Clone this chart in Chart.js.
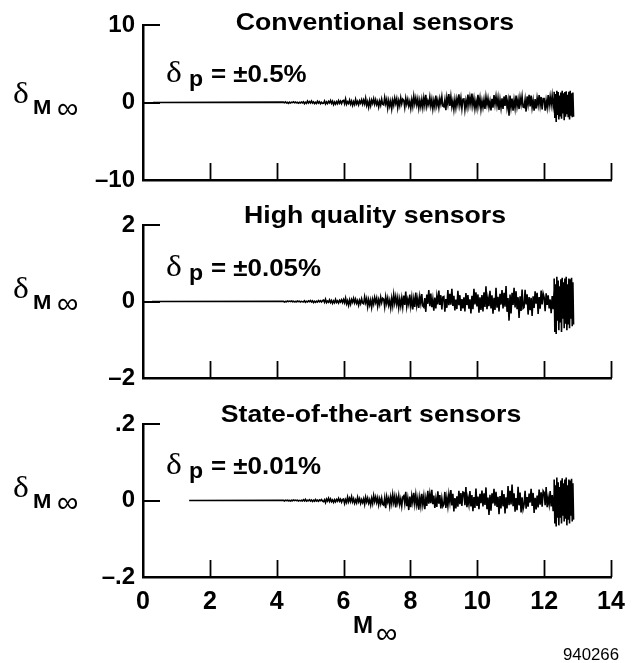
<!DOCTYPE html>
<html>
<head>
<meta charset="utf-8">
<script src="https://cdn.jsdelivr.net/npm/chart.js@4.4.0/dist/chart.umd.min.js"></script>
<style>
html,body{margin:0;padding:0;background:#fff;}
#wrap{position:relative;width:644px;height:663px;overflow:hidden;background:#fff;}
canvas{position:absolute;left:0;top:0;}
.tx{position:absolute;white-space:nowrap;color:#000;font-family:"Liberation Sans",Arial,Helvetica,sans-serif;transform-origin:0 50%;}
</style>
</head>
<body>
<div id="wrap">
<canvas id="c1" width="644" height="663"></canvas>
<canvas id="c2" width="644" height="663"></canvas>
<canvas id="c3" width="644" height="663"></canvas>
</div>
<script>
// ---------------- DATA ----------------
const xTickValues = [0, 2, 4, 6, 8, 10, 12, 14];
const xTickLabels = ['0', '2', '4', '6', '8', '10', '12', '14'];

const convTickValues = [-10, 0, 10];
const convTickLabels = ['\u201310', '0', '10'];
const highTickValues = [-2, 0, 2];
const highTickLabels = ['\u20132', '0', '2'];
const stateTickValues = [-0.2, 0, 0.2];
const stateTickLabels = ['\u2013.2', '0', '.2'];

const panelTitles = ['Conventional sensors', 'High quality sensors', 'State-of-the-art sensors'];
const pressureErrors = ['\u00b10.5%', '\u00b10.05%', '\u00b10.01%'];

// first recorded Mach number of each run (flat trace until the noise record starts)
const convStartMach = 0.3;
const highStartMach = 0.27;
const stateStartMach = 1.38;

// noise record sampled every NOISE_STEP in Mach from NOISE_START (one row = 0.6 in Mach)
const NOISE_START = 4.2;
const NOISE_STEP = 0.03;
// dense final segment sampled every BLOCK_STEP from BLOCK_START
const BLOCK_START = 12.3;
const BLOCK_STEP = 0.02;

const convNoise = [
 0.05,-0.03,0.09,-0.06,0.02,-0.1,0.04,-0.07,0.05,-0.02,0.08,-0.035,0.06,-0.045,0.025,-0.095,0.03,-0.055,0.07,-0.04,
 0.08,-0.16,0.04,-0.1,0.18,-0.06,0.12,-0.05,0.2,-0.07,0.09,-0.14,0.03,-0.12,0.17,-0.06,0.1,-0.15,0.04,-0.11,
 -0.09,0.21,-0.18,0.075,-0.135,0.15,-0.045,0.255,-0.12,0.165,-0.27,0.06,-0.195,0.105,-0.15,0.24,-0.09,0.18,-0.135,0.21,
 0.27,-0.158,0.45,-0.225,0.09,-0.135,0.315,-0.203,0.18,-0.36,0.113,-0.248,0.405,-0.18,0.135,-0.293,0.225,-0.09,0.338,-0.203,
 0.3,-0.18,0.54,-0.36,0.12,-0.6,0.24,-0.42,0.3,-0.12,0.48,-0.21,0.36,-0.27,0.15,-0.57,0.18,-0.33,0.42,-0.24,
 -0.32,0.64,-0.16,0.4,-0.72,0.24,-0.48,0.2,-0.8,0.28,-0.36,0.56,-0.12,0.48,-0.68,0.24,-0.4,0.6,-0.16,0.44,
 0.27,-0.63,0.54,-0.225,0.405,-0.45,0.135,-0.765,0.36,-0.495,0.81,-0.18,0.585,-0.315,0.45,-0.72,0.27,-0.54,0.405,-0.63,
 0.6,-0.35,1.0,-0.5,0.2,-0.3,0.7,-0.45,0.4,-0.8,0.25,-0.55,0.9,-0.4,0.3,-0.65,0.5,-0.2,0.75,-0.45,
 -0.55,0.33,-0.99,0.66,-0.22,1.1,-0.44,0.77,-0.55,0.22,-0.88,0.385,-0.66,0.495,-0.275,1.045,-0.33,0.605,-0.77,0.44,
 0.46,-0.92,0.23,-0.575,1.035,-0.345,0.69,-0.288,1.15,-0.403,0.518,-0.805,0.173,-0.69,0.978,-0.345,0.575,-0.863,0.23,-0.633,
 0.36,-0.84,0.72,-0.3,0.54,-0.6,0.18,-1.02,0.48,-0.66,0.95,-0.24,0.78,-0.42,0.6,-0.96,0.36,-0.72,0.54,-0.84,
 0.78,-0.455,0.95,-0.65,0.26,-1.7,0.91,-0.585,0.52,-1.04,0.325,-0.715,0.9,-0.52,0.39,-0.845,0.65,-0.26,0.8,-0.585,
 -0.65,0.39,-1.17,0.78,-0.26,1.0,-0.52,0.91,-0.65,0.26,-1.04,0.455,-0.78,0.585,-0.325,0.95,-0.39,0.715,-0.91,0.52,
 0.52,-1.04,0.26,-0.65,0.95,-0.39,0.78,-0.325,0.9,-0.455,
 0.6
];
const convBlock = [
 1.4,-2.0,1.1,-2.5,1.5,-1.6,1.35,-2.2,0.9,-1.8,
 1.3,-2.1,1.5,-1.4,1.2,-2.3,1.35,-1.85,1.45,-1.5,
 1.0,-1.9,1.4,-2.2,1.5,-1.7,1.2,-1.9,1.3,-1.85
];

const highNoise = [
 0.006,-0.012,0.003,-0.0075,0.0135,-0.0045,0.009,-0.0038,0.015,-0.0053,0.0068,-0.0105,0.0023,-0.009,0.0128,-0.0045,0.0075,-0.0113,0.003,-0.0083,
 -0.009,0.021,-0.018,0.0075,-0.0135,0.015,-0.0045,0.0255,-0.012,0.0165,-0.027,0.006,-0.0195,0.0105,-0.015,0.024,-0.009,0.018,-0.0135,0.021,
 0.036,-0.021,0.06,-0.03,0.012,-0.018,0.042,-0.027,0.024,-0.048,0.015,-0.033,0.054,-0.024,0.018,-0.039,0.03,-0.012,0.045,-0.027,
 0.05,-0.03,0.09,-0.06,0.02,-0.1,0.04,-0.07,0.05,-0.02,0.08,-0.035,0.06,-0.045,0.025,-0.095,0.03,-0.055,0.07,-0.04,
 -0.06,0.12,-0.03,0.075,-0.135,0.045,-0.09,0.038,-0.15,0.053,-0.068,0.105,-0.023,0.09,-0.128,0.045,-0.075,0.113,-0.03,0.083,
 0.06,-0.14,0.12,-0.05,0.09,-0.1,0.03,-0.17,0.08,-0.11,0.18,-0.04,0.13,-0.07,0.1,-0.16,0.06,-0.12,0.09,-0.14,
 0.156,-0.091,0.26,-0.13,0.052,-0.078,0.182,-0.117,0.104,-0.208,0.065,-0.143,0.234,-0.104,0.078,-0.169,0.13,-0.052,0.195,-0.117,
 -0.15,0.09,-0.27,0.18,-0.06,0.3,-0.12,0.21,-0.15,0.06,-0.24,0.105,-0.18,0.135,-0.075,0.285,-0.09,0.165,-0.21,0.12,
 0.132,-0.264,0.066,-0.165,0.297,-0.099,0.198,-0.083,0.33,-0.116,0.149,-0.231,0.05,-0.198,0.281,-0.099,0.165,-0.248,0.066,-0.182,
 0.111,-0.259,0.222,-0.093,0.167,-0.185,0.056,-0.315,0.148,-0.204,0.333,-0.074,0.241,-0.13,0.185,-0.296,0.111,-0.222,0.167,-0.259,
 0.24,-0.14,0.4,-0.2,0.08,-0.12,0.28,-0.18,0.16,-0.32,0.1,-0.22,0.36,-0.16,0.12,-0.26,0.2,-0.08,0.3,-0.18,
 0.225,-0.135,0.405,-0.27,0.09,-0.5,0.18,-0.315,0.225,-0.09,0.36,-0.158,0.27,-0.203,0.113,-0.428,0.135,-0.248,0.315,-0.18,
 -0.152,0.304,-0.076,0.19,-0.342,0.114,-0.228,0.095,-0.38,0.133,-0.171,0.266,-0.057,0.228,-0.323,0.114,-0.19,0.285,-0.076,0.209,
 0.108,-0.252,0.216,-0.09,0.162,-0.18,0.054,-0.306,0.144,-0.198,
 0.3
];
const highBlock = [
 0.6,-0.8,0.45,-0.85,0.65,-0.5,0.55,-0.75,0.4,-0.55,
 0.58,-0.8,0.62,-0.45,0.5,-0.7,0.6,-0.58,0.65,-0.75,
 0.45,-0.6,0.6,-0.7,0.58,-0.45,0.62,-0.65,0.5,-0.6
];

const stateNoise = [
 0.0005,-0.0011,0.0009,-0.0004,0.0007,-0.0008,0.0002,-0.0013,0.0006,-0.0008,0.0014,-0.0003,0.001,-0.0005,0.0008,-0.0012,0.0005,-0.0009,0.0007,-0.0011,
 0.0018,-0.0011,0.003,-0.0015,0.0006,-0.0009,0.0021,-0.0014,0.0012,-0.0024,0.0008,-0.0017,0.0027,-0.0012,0.0009,-0.002,0.0015,-0.0006,0.0023,-0.0014,
 -0.003,0.0018,-0.0054,0.0036,-0.0012,0.006,-0.0024,0.0042,-0.003,0.0012,-0.0048,0.0021,-0.0036,0.0027,-0.0015,0.0057,-0.0018,0.0033,-0.0042,0.0024,
 0.004,-0.008,0.002,-0.005,0.009,-0.003,0.006,-0.0025,0.01,-0.0035,0.0045,-0.007,0.0015,-0.006,0.0085,-0.003,0.005,-0.0075,0.002,-0.0055,
 0.0042,-0.0098,0.0084,-0.0035,0.0063,-0.007,0.0021,-0.0119,0.0056,-0.0077,0.0126,-0.0028,0.0091,-0.0049,0.007,-0.0112,0.0042,-0.0084,0.0063,-0.0098,
 -0.012,0.007,-0.02,0.01,-0.004,0.006,-0.014,0.009,-0.008,0.016,-0.005,0.011,-0.018,0.008,-0.006,0.013,-0.01,0.004,-0.015,0.009,
 0.0125,-0.0075,0.0225,-0.015,0.005,-0.025,0.01,-0.0175,0.0125,-0.005,0.02,-0.0088,0.015,-0.0113,0.0063,-0.0238,0.0075,-0.0138,0.0175,-0.01,
 0.0112,-0.0224,0.0056,-0.014,0.0252,-0.0084,0.0168,-0.007,0.028,-0.0098,0.0126,-0.0196,0.0042,-0.0168,0.0238,-0.0084,0.014,-0.021,0.0056,-0.0154,
 -0.0096,0.0224,-0.0192,0.008,-0.0144,0.016,-0.0048,0.0272,-0.0128,0.0176,-0.0288,0.0064,-0.0208,0.0112,-0.016,0.0256,-0.0096,0.0192,-0.0144,0.0224,
 0.021,-0.0123,0.035,-0.0175,0.007,-0.0105,0.0245,-0.0158,0.014,-0.028,0.0088,-0.0193,0.0315,-0.014,0.0105,-0.0228,0.0175,-0.007,0.0263,-0.0158,
 0.019,-0.0114,0.0342,-0.0228,0.0076,-0.038,0.0152,-0.0266,0.019,-0.0076,0.0304,-0.0133,0.0228,-0.0171,0.0095,-0.0361,0.0114,-0.0209,0.0266,-0.0152,
 0.0168,-0.0336,0.0084,-0.021,0.0378,-0.0126,0.0252,-0.0105,0.042,-0.0147,0.0189,-0.0294,0.0063,-0.0252,0.0357,-0.0126,0.021,-0.0315,0.0084,-0.0231,
 -0.0108,0.0252,-0.0216,0.009,-0.0162,0.018,-0.0054,0.0306,-0.0144,0.0198,-0.0324,0.0072,-0.0234,0.0126,-0.018,0.0288,-0.0108,0.0216,-0.0162,0.0252,
 0.021,-0.0123,0.035,-0.0175,0.007,-0.0105,0.0245,-0.0158,0.014,-0.028,
 0.02
];
const stateBlock = [
 0.055,-0.06,0.04,-0.068,0.06,-0.045,0.048,-0.065,0.035,-0.045,
 0.052,-0.06,0.058,-0.04,0.045,-0.055,0.055,-0.048,0.06,-0.065,
 0.04,-0.05,0.055,-0.06,0.052,-0.04,0.057,-0.055,0.045,-0.05
];

// ---------------- CHARTS ----------------
const CW = 644, CH = 663;
const PLOT_LEFT = 143, PLOT_RIGHT = 611;

function buildSeries(startMach, noise, block) {
  const pts = [{x: startMach, y: 0}];
  noise.forEach((v, i) => pts.push({x: NOISE_START + i * NOISE_STEP, y: v}));
  block.forEach((v, i) => pts.push({x: BLOCK_START + i * BLOCK_STEP, y: v}));
  return pts;
}

const innerTicks = {
  id: 'innerTicks',
  afterDraw(chart) {
    const {ctx, chartArea: a, scales: {x, y}} = chart;
    ctx.save();
    ctx.strokeStyle = '#000';
    ctx.lineWidth = 1.8;
    ctx.beginPath();
    x.ticks.forEach(t => {
      if (t.value === x.min) return;
      const px = Math.round(x.getPixelForValue(t.value)) + 0.5;
      ctx.moveTo(px, a.bottom);
      ctx.lineTo(px, a.bottom - 17);
    });
    ctx.stroke();
    ctx.lineWidth = 2;
    ctx.beginPath();
    y.ticks.forEach(t => {
      if (t.value === y.min) return;
      const py = Math.round(y.getPixelForValue(t.value));
      ctx.moveTo(a.left, py);
      ctx.lineTo(a.left + 17, py);
    });
    ctx.stroke();
    ctx.restore();
  }
};

const tickFont = {family: '"Liberation Sans", Arial, sans-serif', size: 24, weight: 'bold'};
const xTickFont = {family: '"Liberation Sans", Arial, sans-serif', size: 25, weight: 'bold'};

function makePanel(id, cfg) {
  const xh = cfg.showX ? 48 : 0;
  new Chart(document.getElementById(id), {
    type: 'line',
    data: {
      datasets: [{
        data: buildSeries(cfg.start, cfg.noise, cfg.block),
        borderColor: '#000',
        borderWidth: 1.6,
        borderDash: [5000, 0],
        pointRadius: 0,
        tension: 0,
        fill: false
      }]
    },
    options: {
      responsive: false,
      animation: false,
      events: [],
      layout: {padding: {left: 0, right: CW - PLOT_RIGHT, top: cfg.top, bottom: CH - cfg.bottom - xh}},
      plugins: {legend: {display: false}, tooltip: {enabled: false}, title: {display: false}},
      scales: {
        x: {
          type: 'linear', min: 0, max: 14,
          afterBuildTicks: s => { s.ticks = xTickValues.map(v => ({value: v})); },
          ticks: {
            display: cfg.showX, color: '#000', font: xTickFont, padding: 10, maxRotation: 0, autoSkip: false,
            callback: v => { const i = xTickValues.indexOf(v); return i >= 0 ? xTickLabels[i] : ''; }
          },
          grid: {display: false, drawTicks: false},
          border: {display: true, color: '#000', width: 2.5},
          afterFit: s => { s.height = xh; }
        },
        y: {
          type: 'linear', min: cfg.yVals[0], max: cfg.yVals[cfg.yVals.length - 1],
          afterBuildTicks: s => { s.ticks = cfg.yVals.map(v => ({value: v})); },
          ticks: {
            color: '#000', font: tickFont, padding: 8, autoSkip: false,
            callback: v => {
              const i = cfg.yVals.findIndex(t => Math.abs(t - v) < 1e-9);
              return i >= 0 ? cfg.yLabels[i] : '';
            }
          },
          grid: {display: false, drawTicks: false},
          border: {display: true, color: '#000', width: 2.5},
          afterFit: s => { s.width = PLOT_LEFT; }
        }
      }
    },
    plugins: [innerTicks]
  });
}

makePanel('c1', {top: 25, bottom: 180, showX: false, start: convStartMach, noise: convNoise, block: convBlock, yVals: convTickValues, yLabels: convTickLabels});
makePanel('c2', {top: 225, bottom: 378, showX: false, start: highStartMach, noise: highNoise, block: highBlock, yVals: highTickValues, yLabels: highTickLabels});
makePanel('c3', {top: 424, bottom: 577, showX: true, start: stateStartMach, noise: stateNoise, block: stateBlock, yVals: stateTickValues, yLabels: stateTickLabels});

// ---------------- TEXT ANNOTATIONS ----------------
const wrap = document.getElementById('wrap');
function place(text, x, baseline, size, opts) {
  opts = opts || {};
  const d = document.createElement('div');
  d.className = 'tx';
  d.textContent = text;
  const serif = !!opts.serif;
  if (serif) d.style.fontFamily = '"Liberation Serif","Times New Roman",serif';
  d.style.fontSize = size + 'px';
  d.style.lineHeight = size + 'px';
  d.style.fontWeight = opts.bold === false ? 'normal' : 'bold';
  const off = serif ? 0.8375 : 0.8465;
  d.style.top = (baseline - off * size) + 'px';
  d.style.left = x + 'px';
  const sx = opts.sx || 1;
  if (opts.center) {
    d.style.transformOrigin = '50% 50%';
    d.style.transform = 'translateX(-50%) scaleX(' + sx + ')';
  } else {
    d.style.transform = 'scaleX(' + sx + ')';
  }
  wrap.appendChild(d);
}

const titleCenters = [375, 375, 371];
const titleBaselines = [30, 223, 422];
const labelBaselines = [82, 276, 474];
const yTitleBaselines = [103, 298, 497];

for (let k = 0; k < 3; k++) {
  place(panelTitles[k], titleCenters[k], titleBaselines[k], 24, {center: true, sx: 1.11});
  // delta_p = ...
  place('\u03b4', 166, labelBaselines[k], 30, {serif: true, bold: false, sx: 1.12});
  place('p', 189, labelBaselines[k] + 5, 22, {sx: 1.05});
  place('= ' + pressureErrors[k], 211, labelBaselines[k], 24, {sx: 1.08});
  // y axis title delta_M_inf
  place('\u03b4', 13, yTitleBaselines[k], 30, {serif: true, bold: false, sx: 1.12});
  place('M', 33, yTitleBaselines[k] + 11, 21, {sx: 1.05});
  place('\u221e', 57, yTitleBaselines[k] + 15, 30, {bold: false});
}
// x axis title
place('M', 353, 633, 23, {sx: 1.05});
place('\u221e', 376, 643, 30, {bold: false});
// figure number
place('940266', 563, 661, 16, {bold: false, sx: 1.05});
</script>
</body>
</html>
